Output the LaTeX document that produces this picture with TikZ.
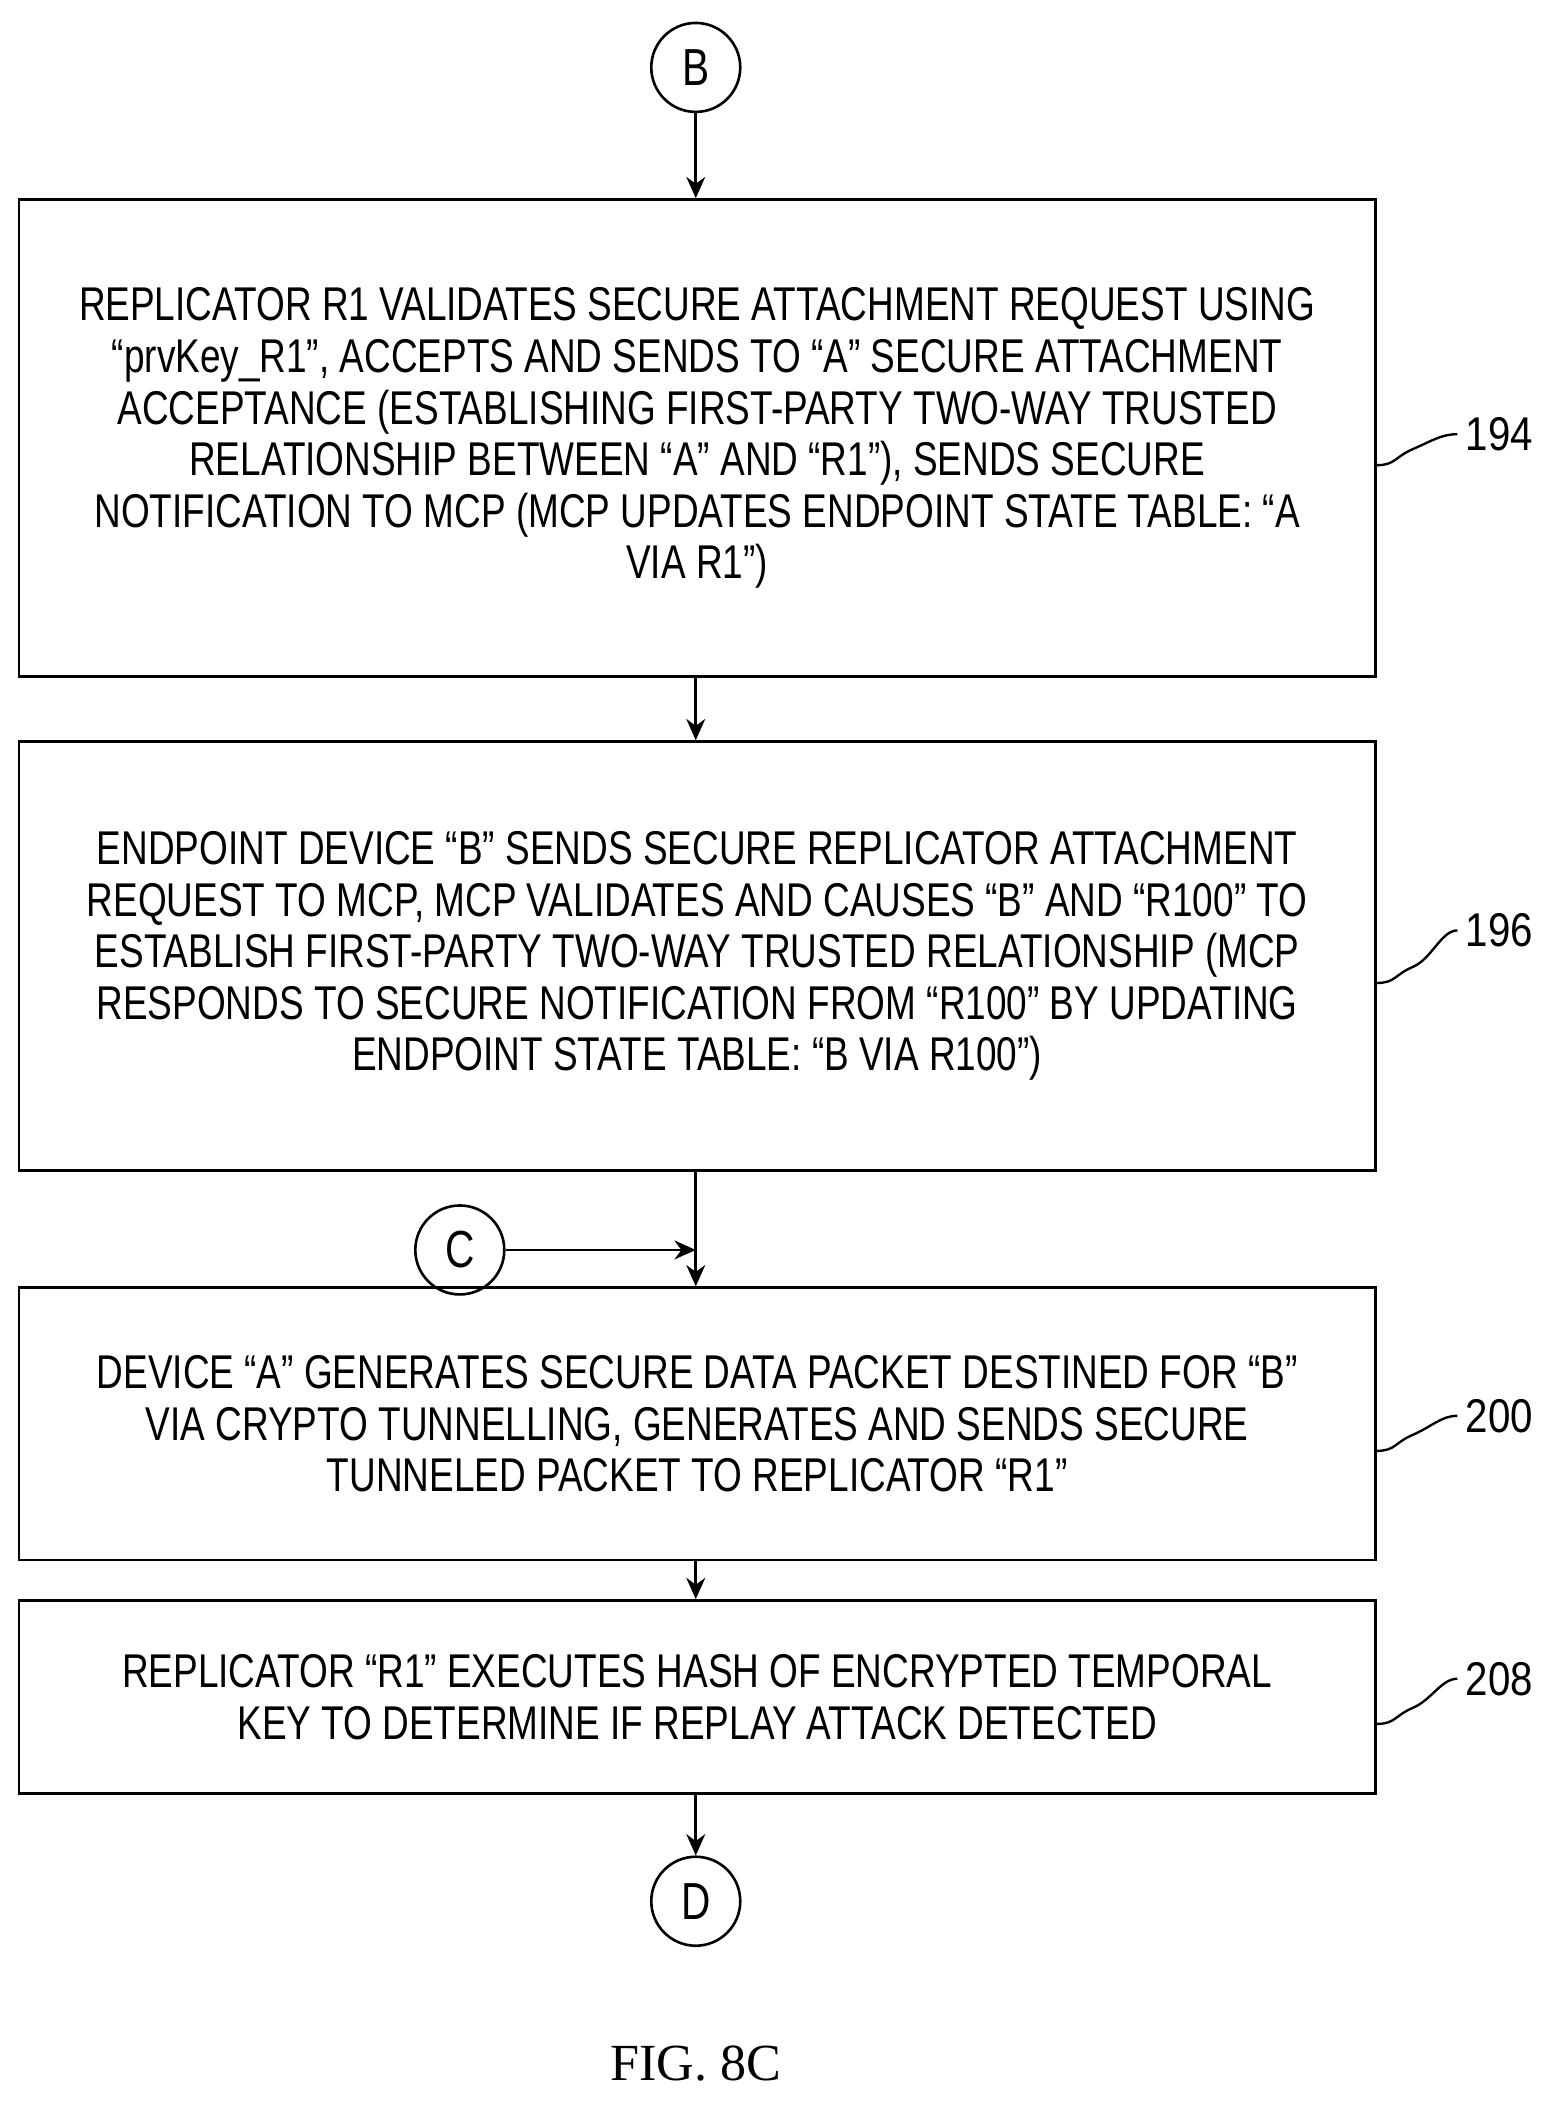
\documentclass[tikz,border=0pt]{standalone}
\usepackage{fontspec}
\setmainfont{Liberation Serif}
\newfontfamily\narrowfont[FakeStretch=0.78,Ligatures=TeX]{Liberation Sans}
\newfontfamily\labelfont[FakeStretch=0.85]{Liberation Sans}
\usetikzlibrary{arrows.meta,positioning}
\tikzset{
  stepbox/.style = {draw, line width=1.2pt, align=center, inner sep=0pt,
    minimum width=20.12cm, font=\narrowfont\fontsize{20}{21.8}\selectfont},
  conn/.style = {draw, circle, line width=1.1pt, minimum size=1.32cm,
    inner sep=0pt, font=\narrowfont\fontsize{22}{24}\selectfont},
  line/.style = {draw, line width=1.1pt, -{Stealth[length=9pt,width=8pt]}},
  ref/.style = {font=\labelfont\fontsize{20}{22}\selectfont},
  lead/.style = {draw, line width=1pt}
}
\begin{document}
\begin{tikzpicture}[x=0.02cm,y=-0.02cm]
  \useasboundingbox (0,0) rectangle (1147,1573);

  \node[conn] (b) at (516,50) {B};
  \node[stepbox, minimum height=7.08cm] (s194) at (517,325) {REPLICATOR R1 VALIDATES SECURE ATTACHMENT REQUEST USING\\
    “prvKey\_R1”, ACCEPTS AND SENDS TO “A” SECURE ATTACHMENT\\
    ACCEPTANCE (ESTABLISHING FIRST-PARTY TWO-WAY TRUSTED\\
    RELATIONSHIP BETWEEN “A” AND “R1”), SENDS SECURE\\
    NOTIFICATION TO MCP (MCP UPDATES ENDPOINT STATE TABLE: “A\\
    VIA R1”)};
  \node[stepbox, minimum height=6.36cm] (s196) at (517,709) {ENDPOINT DEVICE “B” SENDS SECURE REPLICATOR ATTACHMENT\\
    REQUEST TO MCP, MCP VALIDATES AND CAUSES “B” AND “R100” TO\\
    ESTABLISH FIRST-PARTY TWO-WAY TRUSTED RELATIONSHIP (MCP\\
    RESPONDS TO SECURE NOTIFICATION FROM “R100” BY UPDATING\\
    ENDPOINT STATE TABLE: “B VIA R100”)};
  \node[conn] (c) at (341,927) {C};
  \coordinate (join) at (516,927);
  \node[stepbox, minimum height=4.04cm] (s200) at (517,1056) {DEVICE “A” GENERATES SECURE DATA PACKET DESTINED FOR “B”\\
    VIA CRYPTO TUNNELLING, GENERATES AND SENDS SECURE\\
    TUNNELED PACKET TO REPLICATOR “R1”};
  \node[stepbox, minimum height=2.86cm] (s208) at (517,1258.5) {REPLICATOR “R1” EXECUTES HASH OF ENCRYPTED TEMPORAL\\
    KEY TO DETERMINE IF REPLAY ATTACK DETECTED};
  \node[conn] (d) at (516,1410) {D};

  % flow
  \path[line] (b) -- (b |- s194.north);
  \path[line] (s194.south -| b) -- (s196.north -| b);
  \path[line] (s196.south -| b) -- (s200.north -| b);
  \path[line] (c) -- (join);
  \path[line] (s200.south -| b) -- (s208.north -| b);
  \path[line] (s208.south -| b) -- (d);

  % reference numerals
  \node[ref] (l194) at (1112,322) {194};
  \node[ref] (l196) at (1112,690) {196};
  \node[ref] (l200) at (1112,1050) {200};
  \node[ref] (l208) at (1112,1245) {208};
  \foreach \s in {194,196,200,208}
    \draw[lead] (s\s.east) ++(0,20) .. controls +(14,0) and +(-14,6) .. ++(27,-12)
      .. controls +(14,-6) and +(-12,0) .. (l\s.west);

  \node[font=\fontsize{22}{24}\selectfont] (fig) at (516,1530) {FIG. 8C};
\end{tikzpicture}
\end{document}
